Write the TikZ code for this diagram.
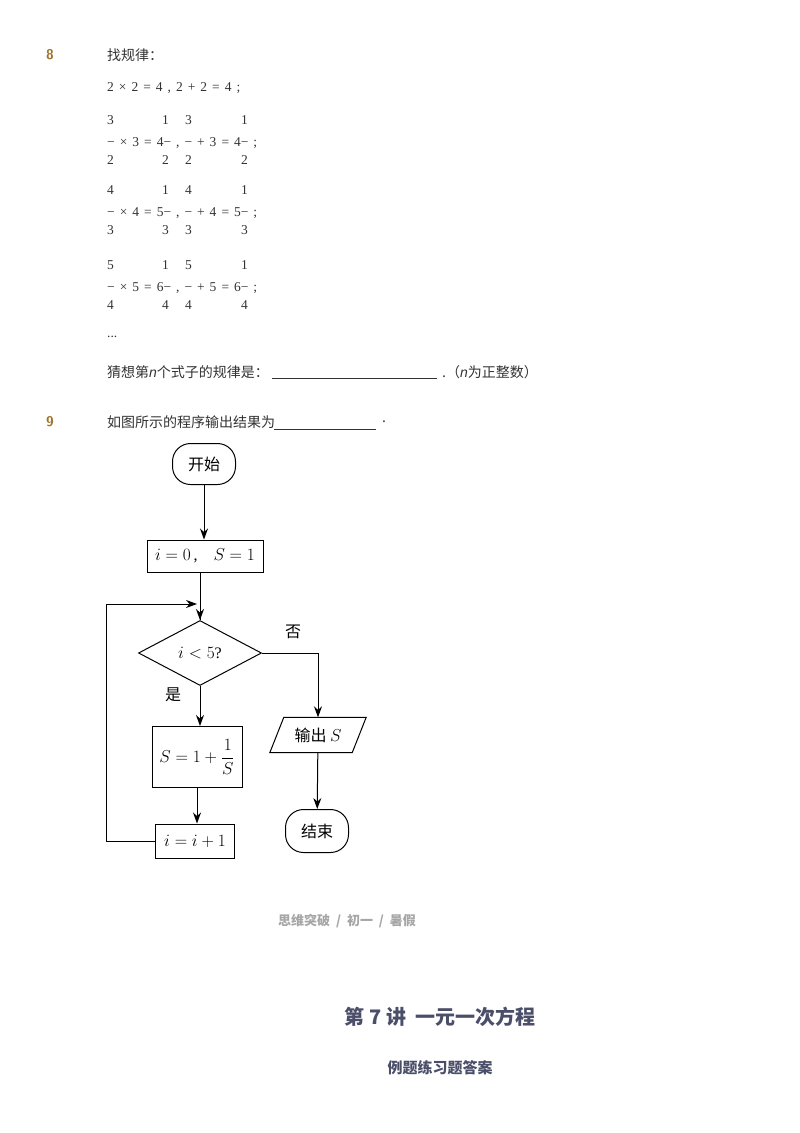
\documentclass[tikz,border=0pt]{standalone}
\usepackage{fontspec}
\setmainfont{Liberation Serif}
\newfontfamily\cjk{Noto Sans CJK SC}
\usetikzlibrary{shapes.geometric,arrows.meta}
\definecolor{gold}{HTML}{A0742B}
\definecolor{txt}{HTML}{333333}
\definecolor{head}{HTML}{4A4E69}
\newcommand\wideSp{\spaceskip=5pt\relax}
\tikzset{
 lbl/.style={anchor=west,inner sep=0,text=txt,font=\fontsize{14}{16}\selectfont\cjk},
 fr/.style={anchor=west,inner sep=0,text=txt,font=\fontsize{13.5}{15}\selectfont\wideSp},
 num/.style={anchor=center,inner sep=0,text=gold,font=\fontsize{14}{16}\selectfont\sffamily\bfseries},
 fb/.style={draw,line width=1pt,inner sep=0,font=\fontsize{16}{18}\selectfont},
 ar/.style={line width=1pt,-{Stealth[length=11pt,width=8pt]}},
 ln/.style={line width=1pt}
}
\begin{document}
\begin{tikzpicture}[x=1pt,y=-1pt]
\useasboundingbox (0,0) rectangle (800,1133);
\fill[white] (0,0) rectangle (800,1133);
\node[num] (n8) at (50,55) {8};
\node[lbl] (t8) at (107,55) {找规律：};
\node[fr] (r1) at (107,88) {2 × 2 = 4 , 2 + 2 = 4 ;};
% fraction rows
\foreach \a/\b/\c/\y in {3/4/2/120,4/5/3/190,5/6/4/265}{
 \node[fr] at (107,\y) {\a};
 \node[fr] at (162,\y) {1};
 \node[fr] at (185,\y) {\a};
 \node[fr] at (241,\y) {1};
 \node[fr] at (107,\y+23) {− × \a{} = \b− , − + \a{} = \b− ;};
 \node[fr] at (107,\y+40) {\c};
 \node[fr] at (162,\y+40) {\c};
 \node[fr] at (185,\y+40) {\c};
 \node[fr] at (241,\y+40) {\c};
}
\node[fr] (dots) at (107,337) {...};
\node[lbl] (t8b) at (107,372) {猜想第\textit{\fontspec{Liberation Sans}n}个式子的规律是：};
\draw[txt,line width=0.6pt] (272,378) -- (437,378);
\node[lbl] (t8c) at (442,372) {.（\textit{\fontspec{Liberation Sans}n}为正整数）};
\node[num] (n9) at (50,422) {9};
\node[lbl] (t9) at (107,422) {如图所示的程序输出结果为};
\draw[txt,line width=0.6pt] (274,429) -- (376,429);
\node[lbl] at (382,422) {.};
% flowchart
\node[fb,minimum width=63pt,minimum height=41pt,rounded corners=18pt,font=\fontsize{16}{18}\selectfont\cjk] (start) at (204,464) {开始};
\node[fb,minimum width=116pt,minimum height=32pt] (init) at (205,556) {$i=0$\,,\quad$S=1$};
\node[fb,diamond,aspect=1.9,minimum width=123pt,minimum height=65pt] (cond) at (200,653) {$i<5$?};
\node[fb,minimum width=90pt,minimum height=61pt] (upd) at (197,757) {$S=1+\displaystyle\frac{1}{S}$};
\node[fb,minimum width=79pt,minimum height=34pt] (inc) at (195,841) {$i=i+1$};
\node[minimum width=82pt,minimum height=35pt,inner sep=0,font=\fontsize{16}{18}\selectfont\cjk] (out) at (318,735) {输出 $S$};
\draw[ln] ([xshift=7pt]out.north west) -- ([xshift=7pt]out.north east) -- ([xshift=-7pt]out.south east) -- ([xshift=-7pt]out.south west) -- cycle;
\node[fb,minimum width=63pt,minimum height=43pt,rounded corners=18pt,font=\fontsize{16}{18}\selectfont\cjk] (end) at (317,831) {结束};
\coordinate (join) at (200,604);
\coordinate (lx) at (106,604);
\draw[ar] (start) -- (init.north -| start);
\draw[ln] (init.south -| join) -- (cond.north);
\draw[ar] (inc.west) -| (lx) -- (197,604);
\draw[ar] (join) -- (cond.north);
\draw[ar] (cond.south) -- (upd.north -| cond.south);
\draw[ar] (upd.south) -- (upd.south |- inc.north);
\draw[ar] (cond.east) -| (out.north);
\draw[ar] (out) -- (end);
\node[font=\fontsize{16}{18}\selectfont\cjk] (no) at (293,632) {否};
\node[font=\fontsize{16}{18}\selectfont\cjk] (yes) at (173,695) {是};
% footer
\node[text=gray!70,font=\fontsize{13}{15}\selectfont\cjk\bfseries] (foot) at (347,921) {思维突破\ \ /\ \ 初一\ \ /\ \ 暑假};
\node[text=head,font=\fontsize{20}{24}\selectfont\cjk\bfseries] (h1) at (440,1017) {第 7 讲\ \ 一元一次方程};
\node[text=head,font=\fontsize{15}{18}\selectfont\cjk\bfseries] (h2) at (440,1068) {例题练习题答案};
\end{tikzpicture}
\end{document}
